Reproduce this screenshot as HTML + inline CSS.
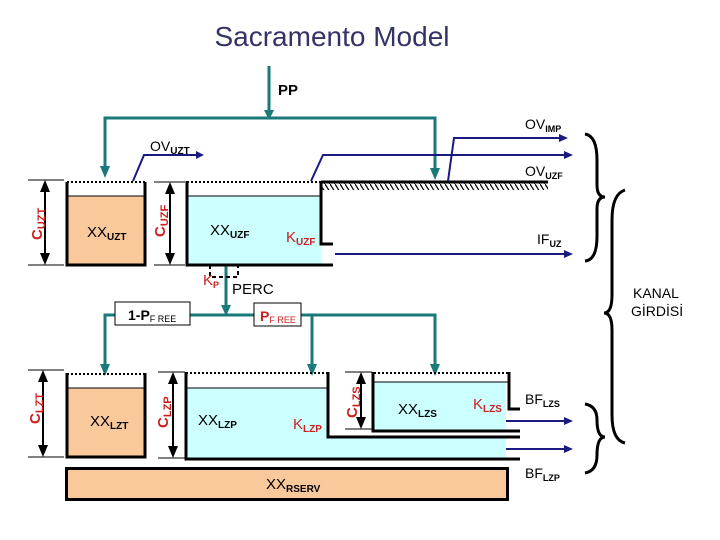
<!DOCTYPE html>
<html><head><meta charset="utf-8"><style>
body{margin:0;background:#fff}
svg{display:block}
text{font-family:"Liberation Sans",sans-serif}
</style></head><body>
<svg width="720" height="540" viewBox="0 0 720 540" xmlns="http://www.w3.org/2000/svg">
<defs>
<marker id="ta" markerWidth="8" markerHeight="8" refX="4" refY="7" orient="auto-start-reverse" markerUnits="userSpaceOnUse"><path d="M0,0 L8,0 L4,8 Z" fill="#1a7a7a"/></marker>
<pattern id="hatch" width="5" height="8" patternUnits="userSpaceOnUse"><path d="M0,0 L5,8" stroke="#000" stroke-width="1.2"/></pattern>
</defs>
<text x="332" y="46" font-size="28" fill="#333366" text-anchor="middle">Sacramento Model</text>
<!-- PP -->
<g stroke="#1a7a7a" stroke-width="3" fill="none">
<line x1="269" y1="66" x2="269" y2="116"/>
<polyline points="105,173 105,118 435,118 435,175"/>
<line x1="226" y1="265" x2="226" y2="312"/>
<polyline points="105,370 105,315 435,315 435,370"/>
<line x1="312" y1="315" x2="312" y2="370"/>
</g>
<g fill="#1a7a7a">
<path d="M264,110 L274,110 L269,120 Z"/>
<path d="M100,166 L110,166 L105,178 Z"/>
<path d="M430,168 L440,168 L435,180 Z"/>
<path d="M221,305 L231,305 L226,316 Z"/>
<path d="M100,364 L110,364 L105,376 Z"/>
<path d="M307,364 L317,364 L312,376 Z"/>
<path d="M430,364 L440,364 L435,376 Z"/>
</g>
<text x="278" y="95" font-size="15" font-weight="bold">PP</text>
<!-- UZT tank -->
<rect x="67" y="196" width="78" height="68" fill="#f9c89b"/>
<line x1="67" y1="196" x2="145" y2="196" stroke="#000"/>
<polyline points="67,182 67,265 145,265 145,182" fill="none" stroke="#000" stroke-width="3"/>
<line x1="67" y1="182" x2="145" y2="182" stroke="#000" stroke-width="2" stroke-dasharray="2,2"/>
<text x="87" y="237" font-size="15">XX<tspan font-size="10" dy="3" font-weight="bold">UZT</tspan></text>
<!-- dims -->
<g stroke="#000" stroke-width="1">
<line x1="28" y1="180" x2="64" y2="180"/><line x1="28" y1="265" x2="64" y2="265"/>
<line x1="154" y1="182" x2="185" y2="182"/><line x1="154" y1="265" x2="185" y2="265"/>
<line x1="28" y1="370" x2="64" y2="370"/><line x1="28" y1="457" x2="64" y2="457"/>
<line x1="158" y1="372" x2="185" y2="372"/><line x1="158" y1="458" x2="185" y2="458"/>
<line x1="345" y1="372" x2="372" y2="372"/><line x1="345" y1="429" x2="372" y2="429"/>
</g>
<g stroke="#000" stroke-width="2">
<line x1="45" y1="186" x2="45" y2="259"/><line x1="170" y1="188" x2="170" y2="259"/>
<line x1="43" y1="376" x2="43" y2="451"/><line x1="173" y1="378" x2="173" y2="452"/>
<line x1="361" y1="378" x2="361" y2="423"/>
</g>
<g fill="#000">
<path d="M40,192 L45,180 L50,192Z M40,253 L45,265 L50,253Z"/>
<path d="M165,194 L170,182 L175,194Z M165,253 L170,265 L175,253Z"/>
<path d="M38,382 L43,370 L48,382Z M38,445 L43,457 L48,445Z"/>
<path d="M168,384 L173,372 L178,384Z M168,446 L173,458 L178,446Z"/>
<path d="M356,384 L361,372 L366,384Z M356,417 L361,429 L366,417Z"/>
</g>
<g fill="#cc1f1f" font-size="15" font-weight="bold">
<text transform="translate(42,240) rotate(-90)">C<tspan font-size="11" dy="3">UZT</tspan></text>
<text transform="translate(165,237) rotate(-90)">C<tspan font-size="11" dy="3">UZF</tspan></text>
<text transform="translate(40,424) rotate(-90)">C<tspan font-size="11" dy="3">LZT</tspan></text>
<text transform="translate(168,428) rotate(-90)">C<tspan font-size="11" dy="3">LZP</tspan></text>
<text transform="translate(357,418) rotate(-90)">C<tspan font-size="11" dy="3">LZS</tspan></text>
</g>
<!-- OVUZT -->
<polyline points="133,181 144,155 200,155" fill="none" stroke="#1a1a80" stroke-width="2"/>
<path d="M196,151 L204,155 L196,159Z" fill="#1a1a80"/>
<text x="150" y="151" font-size="14">OV<tspan font-size="10" dy="3" font-weight="bold">UZT</tspan></text>
<!-- UZF tank -->
<rect x="187" y="196" width="134" height="68" fill="#ccffff"/>
<line x1="187" y1="196" x2="321" y2="196" stroke="#000"/>
<polyline points="187,181 187,265 333,265" fill="none" stroke="#000" stroke-width="3"/>
<polyline points="321,181 321,244 333,244" fill="none" stroke="#000" stroke-width="3"/>
<line x1="187" y1="182" x2="321" y2="182" stroke="#000" stroke-width="2" stroke-dasharray="2,2"/>
<text x="210" y="235" font-size="15">XX<tspan font-size="10" dy="3" font-weight="bold">UZF</tspan></text>
<text x="286" y="242" font-size="15" fill="#cc1f1f">K<tspan font-size="10" dy="3" font-weight="bold">UZF</tspan></text>
<!-- ground -->
<rect x="322" y="183" width="226" height="7" fill="url(#hatch)"/>
<line x1="321" y1="182" x2="548" y2="182" stroke="#000" stroke-width="3"/>
<!-- blue outflows -->
<g stroke="#1a1a80" stroke-width="2" fill="none">
<polyline points="311,181 323,155 568,155"/>
<polyline points="448,181 454,138 562,138"/>
<line x1="335" y1="254" x2="568" y2="254"/>
<line x1="506" y1="421" x2="568" y2="421"/>
<line x1="506" y1="449" x2="568" y2="449"/>
</g>
<g fill="#1a1a80">
<path d="M564,151 L573,155 L564,159Z"/><path d="M559,134 L568,138 L559,142Z"/>
<path d="M564,250 L573,254 L564,258Z"/><path d="M564,417 L573,421 L564,425Z"/><path d="M564,445 L573,449 L564,453Z"/>
</g>
<text x="525" y="129" font-size="14">OV<tspan font-size="9" dy="3" font-weight="bold">IMP</tspan></text>
<text x="525" y="176" font-size="14">OV<tspan font-size="9" dy="3" font-weight="bold">UZF</tspan></text>
<text x="537" y="244" font-size="14">IF<tspan font-size="9" dy="3" font-weight="bold">UZ</tspan></text>
<!-- Kp -->
<polyline points="210,265 210,277 238,277 238,265" fill="none" stroke="#000" stroke-width="2" stroke-dasharray="4,3"/>
<text x="203" y="285" font-size="15" fill="#cc1f1f">K<tspan font-size="9" dy="3" font-weight="bold">P</tspan></text>
<text x="232" y="294" font-size="15">PERC</text>
<!-- PFREE boxes -->
<rect x="115" y="302" width="75" height="23" fill="#fff" stroke="#000"/>
<text x="128" y="320" font-size="14" font-weight="bold">1-P<tspan font-size="9" font-weight="normal" dy="2">F REE</tspan></text>
<rect x="254" y="303" width="47" height="23" fill="#fff" stroke="#000"/>
<text x="260" y="321" font-size="14" font-weight="bold" fill="#cc1f1f">P<tspan font-size="9" font-weight="normal" dy="2">F REE</tspan></text>
<!-- LZT -->
<rect x="67" y="388" width="78" height="68" fill="#f9c89b"/>
<line x1="67" y1="388" x2="145" y2="388" stroke="#000"/>
<polyline points="67,373 67,457 145,457 145,373" fill="none" stroke="#000" stroke-width="3"/>
<line x1="67" y1="374" x2="145" y2="374" stroke="#000" stroke-width="2" stroke-dasharray="2,2"/>
<text x="90" y="426" font-size="15">XX<tspan font-size="10" dy="3" font-weight="bold">LZT</tspan></text>
<!-- LZP -->
<rect x="186" y="388" width="142" height="70" fill="#ccffff"/>
<rect x="326" y="437" width="180" height="22" fill="#ccffff"/>
<line x1="186" y1="388" x2="328" y2="388" stroke="#000"/>
<line x1="186" y1="373" x2="328" y2="373" stroke="#000" stroke-width="2" stroke-dasharray="2,2"/>
<polyline points="186,372 186,459 520,459" fill="none" stroke="#000" stroke-width="3"/>
<polyline points="328,372 328,437 520,437" fill="none" stroke="#000" stroke-width="3"/>
<text x="198" y="425" font-size="15">XX<tspan font-size="10" dy="3" font-weight="bold">LZP</tspan></text>
<text x="293" y="429" font-size="15" fill="#cc1f1f">K<tspan font-size="10" dy="3" font-weight="bold">LZP</tspan></text>
<!-- LZS -->
<rect x="374" y="382" width="132" height="48" fill="#ccffff"/>
<line x1="374" y1="382" x2="508" y2="382" stroke="#000"/>
<line x1="374" y1="373" x2="508" y2="373" stroke="#000" stroke-width="2" stroke-dasharray="2,2"/>
<polyline points="373,372 373,431 520,431" fill="none" stroke="#000" stroke-width="3"/>
<polyline points="509,372 509,409 520,409" fill="none" stroke="#000" stroke-width="3"/>
<text x="398" y="414" font-size="15">XX<tspan font-size="10" dy="3" font-weight="bold">LZS</tspan></text>
<text x="473" y="409" font-size="15" fill="#cc1f1f">K<tspan font-size="10" dy="3" font-weight="bold">LZS</tspan></text>
<text x="525" y="404" font-size="14">BF<tspan font-size="9" dy="3" font-weight="bold">LZS</tspan></text>
<text x="525" y="478" font-size="14">BF<tspan font-size="9" dy="3" font-weight="bold">LZP</tspan></text>
<!-- reserve -->
<rect x="66.5" y="468.5" width="441" height="31" fill="#f9c89b" stroke="#000" stroke-width="3"/>
<text x="266" y="489" font-size="15">XX<tspan font-size="10" dy="3" font-weight="bold">RSERV</tspan></text>
<!-- braces -->
<g fill="none" stroke="#000" stroke-width="3">
<path d="M585,134 Q597,136 597,160 L597,185 Q597,197 605,197 Q597,197 597,209 L597,236 Q597,260 585,261"/>
<path d="M625,190 Q612,194 612,220 L612,295 Q612,313 604,313 Q612,313 612,330 L612,415 Q612,440 625,443"/>
<path d="M585,404 Q597,406 597,420 Q597,437 605,437 Q597,437 597,455 Q597,471 585,473"/>
</g>
<text x="633" y="298" font-size="14">KANAL</text>
<text x="631" y="316" font-size="14">GİRDİSİ</text>
</svg>
</body></html>
